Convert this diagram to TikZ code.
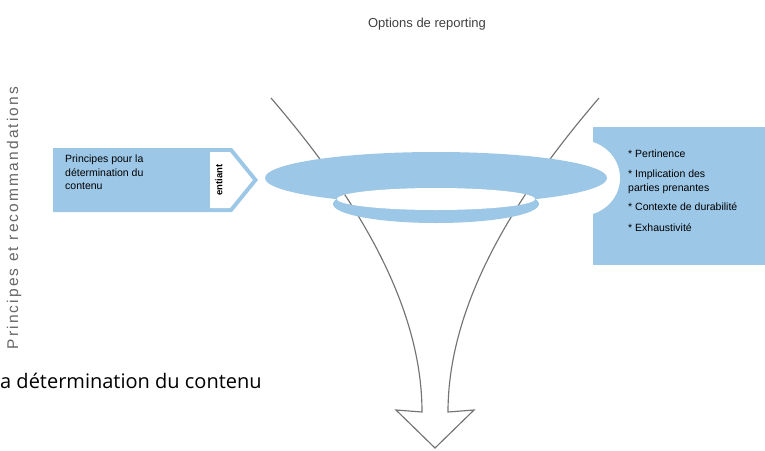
\documentclass[tikz,border=0pt]{standalone}
\usepackage{fontspec}
\setmainfont{Liberation Sans}
\newfontfamily\spacedfont[LetterSpace=14]{Liberation Sans}
\newfontfamily\captionfont{Open Sans}
\definecolor{ringblue}{RGB}{156,199,231}
\definecolor{funnelgray}{RGB}{115,115,115}

\begin{document}
\begin{tikzpicture}[x=1pt,y=-1pt,
  boxtext/.style={font=\fontsize{10.5}{13.5}\selectfont, align=left, inner sep=0pt, anchor=north west},
  funnel/.style={draw=funnelgray, line width=1.15pt, line join=miter}]
\useasboundingbox (0,0) rectangle (765,450);

\node[font=\fontsize{13}{15}\selectfont, text=black!75] (title) at (427,24) {Options de reporting};
\node[rotate=90, font=\spacedfont\fontsize{15.5}{17}\selectfont, text=black!60] (sidelabel) at (14,218) {Principes et recommandations};

\fill[ringblue] (53,148) -- (232,148) -- (258,180) -- (232,212) -- (53,212) -- cycle;
\fill[white] (210,152) -- (230,152) -- (252.8,180) -- (230,208) -- (210,208) -- cycle;
\node[boxtext] (principes) at (65,155) {Principes pour la\\détermination du\\contenu};
\node[rotate=90, font=\bfseries\fontsize{9.5}{11}\selectfont, inner sep=0pt] (entiant) at (219,180) {entiant};

\fill[ringblue] (593,127) rectangle (770,265);
\fill[white] (580,178) ellipse [x radius=40, y radius=38];
\node[boxtext] (criteres) at (628,149.5) {* Pertinence\\[7pt]* Implication des\\parties prenantes\\[6pt]* Contexte de durabilité\\[7pt]* Exhaustivité};

\draw[funnel] (271,98) .. controls (350,190) and (422,300) .. (422,412) -- (396,410) -- (435,448) -- (474,410) -- (448,412) .. controls (448,300) and (520,190) .. (599,98);

\fill[ringblue] (436,178) ellipse [x radius=171, y radius=26];
\fill[ringblue] (436,204) ellipse [x radius=103, y radius=19];
\fill[white] (436,199) ellipse [x radius=99, y radius=11];
\begin{scope}
\clip (436,199) ellipse [x radius=99, y radius=11];
\draw[funnel] (271,98) .. controls (350,190) and (422,300) .. (422,412);
\draw[funnel] (448,412) .. controls (448,300) and (520,190) .. (599,98);
\end{scope}

\node[anchor=base west, inner sep=0pt, font=\captionfont\fontsize{20}{22}\selectfont] (contenu) at (0,388) {a détermination du contenu};

\end{tikzpicture}
\end{document}
